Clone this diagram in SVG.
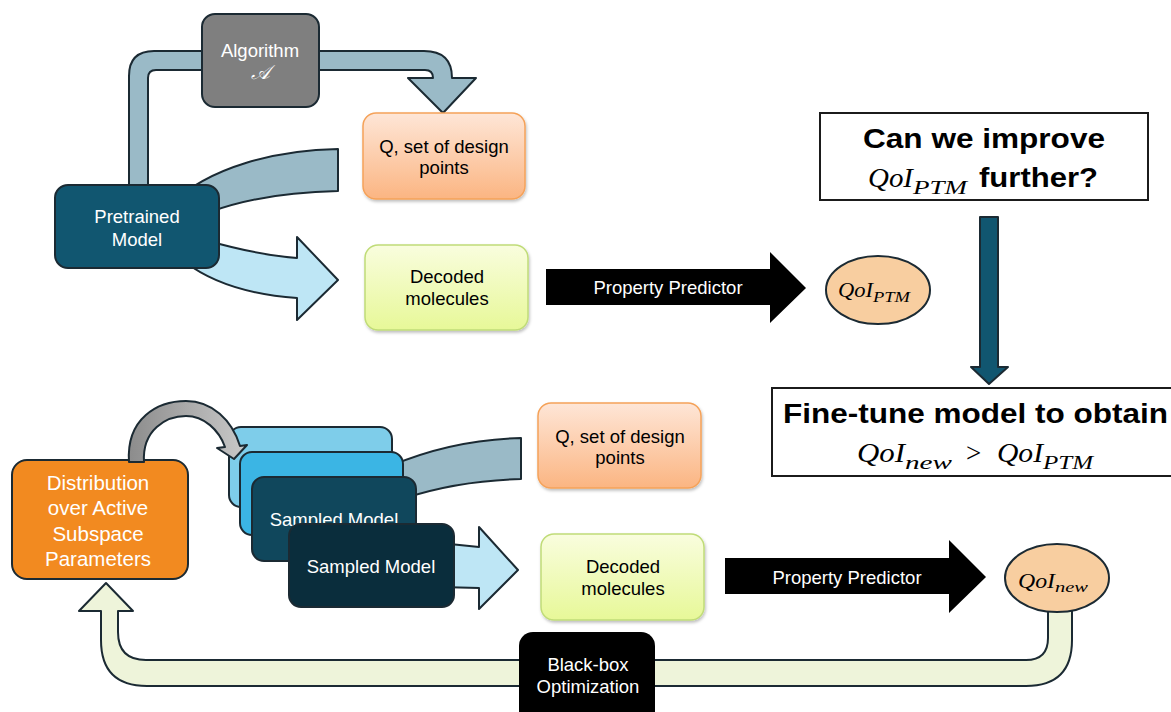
<svg xmlns="http://www.w3.org/2000/svg" width="1171" height="712" viewBox="0 0 1171 712">
<style>
.lbl{font-family:"Liberation Sans",Arial,sans-serif;font-size:18.5px;text-anchor:middle}
.w{fill:#ffffff}
.k{fill:#000000}
.big{font-family:"Liberation Sans",Arial,sans-serif;font-size:28px;font-weight:bold;fill:#000}
.math{font-family:"Liberation Serif","Times New Roman",serif;font-style:italic;fill:#000}
.edge{stroke:#1b2a33;stroke-width:2;stroke-linejoin:round}
</style>
<defs>
<linearGradient id="gOr" x1="0" y1="0" x2="0" y2="1"><stop offset="0" stop-color="#FEE6D7"/><stop offset="1" stop-color="#FBB582"/></linearGradient>
<linearGradient id="gGr" x1="0" y1="0" x2="0" y2="1"><stop offset="0" stop-color="#F9FDDE"/><stop offset="1" stop-color="#E7F898"/></linearGradient>
<linearGradient id="gGray" x1="0" y1="0" x2="1" y2="0"><stop offset="0" stop-color="#8C8C8C"/><stop offset="1" stop-color="#C9C9C9"/></linearGradient>
<filter id="sh" x="-10%" y="-10%" width="130%" height="140%"><feDropShadow dx="1" dy="2" stdDeviation="1.5" flood-color="#000" flood-opacity="0.25"/></filter>
</defs>
<rect width="1171" height="712" fill="#ffffff"/>

<g id="connectors">
  <!-- elbow arrow from Pretrained Model via Algorithm to Q -->
  <path class="edge" fill="#9ABAC7" d="M129,190 L129,76 Q129,51 154,51 L424,51 Q452,51 452,78 L476,78 L443,113 L408,78 L433,78 Q433,70 425,70 L156,70 Q148,70 148,78 L148,190 Z"/>
  <!-- top gray band -->
  <path class="edge" fill="#9ABAC7" d="M170,205 C210,166 278,150 338,149 L338,191 C290,192 248,198 210,212 Z"/>
  <!-- top light blue arrow -->
  <path class="edge" fill="#BEE6F5" d="M205,240 C240,250 270,256 297,258 L297,237 L338,280 L297,320 L297,298 C255,295 215,285 185,262 Z"/>
  <!-- top property predictor -->
  <g>
    <path fill="#000" d="M546,269 L770,269 L770,252 L806,288 L770,323 L770,305 L546,305 Z"/>
    <text class="lbl w" x="668" y="294">Property Predictor</text>
  </g>
  <!-- down arrow -->
  <path class="edge" fill="#115670" d="M980,217 L998,217 L998,367 L1008,367 L989,384 L971,367 L980,367 Z"/>
  <!-- bottom gray band -->
  <path class="edge" fill="#9ABAC7" d="M390,466 C435,447 478,439 521,438 L521,479 C480,480 445,485 405,498 Z"/>
  <!-- bottom light blue arrow -->
  <path class="edge" fill="#BEE6F5" d="M440,543 L479,547 L479,527 L518,570 L479,609 L479,588 L440,587 Z"/>
  <!-- bottom property predictor -->
  <g>
    <path fill="#000" d="M725,558 L949,558 L949,540 L986,577 L949,613 L949,594 L725,594 Z"/>
    <text class="lbl w" x="847" y="584">Property Predictor</text>
  </g>
  <!-- feedback loop -->
  <path class="edge" fill="#EEF4DA" d="M1048,600 L1048,638 Q1048,660 1026,660 L146,660 Q118,660 118,632 L118,611 L133,611 L106,583 L79,611 L101,611 L101,640 Q101,686 147,686 L1026,686 Q1072,686 1072,640 L1072,600 Z"/>
</g>

<g id="algorithm">
  <rect class="edge" x="202" y="14" width="117" height="93" rx="13" fill="#7F7F7F"/>
  <text class="lbl w" x="260" y="57">Algorithm</text>
  <text class="math" x="260" y="79" font-size="20" text-anchor="middle" fill="#fff" style="fill:#fff">𝒜</text>
</g>

<g id="pretrained">
  <rect class="edge" x="55" y="185" width="164" height="83" rx="13" fill="#115670"/>
  <text class="lbl w" x="137" y="223">Pretrained</text>
  <text class="lbl w" x="137" y="246">Model</text>
</g>

<g id="q-top">
  <rect x="363" y="113" width="162" height="86" rx="13" fill="url(#gOr)" stroke="#F5A259" stroke-width="1.5" filter="url(#sh)"/>
  <text class="lbl k" x="444" y="153">Q, set of design</text>
  <text class="lbl k" x="444" y="174">points</text>
</g>

<g id="decoded-top">
  <rect x="365" y="245" width="163" height="85" rx="13" fill="url(#gGr)" stroke="#C0DC78" stroke-width="1.5" filter="url(#sh)"/>
  <text class="lbl k" x="447" y="283">Decoded</text>
  <text class="lbl k" x="447" y="305">molecules</text>
</g>

<g id="qoi-ptm">
  <ellipse class="edge" cx="878" cy="290" rx="52" ry="34" fill="#F8CEA0"/>
  <text class="math" x="838" y="297" font-size="20" textLength="35" lengthAdjust="spacingAndGlyphs">QoI</text>
  <text class="math" x="873" y="302" font-size="14" textLength="37" lengthAdjust="spacingAndGlyphs">PTM</text>
</g>

<g id="question">
  <rect x="820" y="113" width="328" height="87" fill="#fff" stroke="#1b1b1b" stroke-width="2"/>
  <text class="big" x="863" y="148" textLength="242" lengthAdjust="spacingAndGlyphs">Can we improve</text>
  <text class="math" x="868" y="187" font-size="27" textLength="45" lengthAdjust="spacingAndGlyphs">QoI</text>
  <text class="math" x="913" y="194" font-size="19" textLength="54" lengthAdjust="spacingAndGlyphs">PTM</text>
  <text class="big" x="979" y="187" textLength="119" lengthAdjust="spacingAndGlyphs">further?</text>
</g>

<g id="finetune">
  <rect x="772" y="388" width="420" height="88" fill="#fff" stroke="#1b1b1b" stroke-width="2"/>
  <text class="big" x="783" y="423" textLength="385" lengthAdjust="spacingAndGlyphs">Fine-tune model to obtain</text>
  <text class="math" x="857" y="462" font-size="27" textLength="48" lengthAdjust="spacingAndGlyphs">QoI</text>
  <text class="math" x="905" y="469" font-size="19" textLength="47" lengthAdjust="spacingAndGlyphs">new</text>
  <text class="math" x="966" y="462" font-size="27" font-style="normal" style="font-style:normal">&gt;</text>
  <text class="math" x="997" y="462" font-size="27" textLength="46" lengthAdjust="spacingAndGlyphs">QoI</text>
  <text class="math" x="1043" y="469" font-size="19" textLength="50" lengthAdjust="spacingAndGlyphs">PTM</text>
</g>

<g id="distribution">
  <rect class="edge" x="12" y="460" width="176" height="119" rx="15" fill="#F28A20"/>
  <text class="lbl w" x="98" y="490" font-size="20.5" style="font-size:20.5px">Distribution</text>
  <text class="lbl w" x="98" y="515" style="font-size:20.5px">over Active</text>
  <text class="lbl w" x="98" y="541" style="font-size:20.5px">Subspace</text>
  <text class="lbl w" x="98" y="566" style="font-size:20.5px">Parameters</text>
</g>

<g id="sampled-stack">
  <rect class="edge" x="229" y="427" width="163" height="80" rx="12" fill="#7ECDEA"/>
  <rect class="edge" x="240" y="452" width="163" height="83" rx="12" fill="#3BB5E4"/>
  <rect class="edge" x="252" y="477" width="164" height="84" rx="12" fill="#10475C"/>
  <text class="lbl w" x="334" y="526">Sampled Model</text>
</g>

<g id="sampled-model">
  <rect class="edge" x="289" y="524" width="165" height="83" rx="12" fill="#0A2D3C"/>
  <text class="lbl w" x="371" y="573">Sampled Model</text>
</g>

<g id="connectors-front">
  <path class="edge" fill="url(#gGray)" d="M129,462 C126,418 158,401 186,401 C212,401 232,420 240,446 L247,445 L234,459 L217,448 L225,447 C219,430 204,416 186,416 C166,416 142,430 144,462 Z"/>
</g>

<g id="q-bottom">
  <rect x="538" y="403" width="163" height="85" rx="13" fill="url(#gOr)" stroke="#F5A259" stroke-width="1.5" filter="url(#sh)"/>
  <text class="lbl k" x="620" y="443">Q, set of design</text>
  <text class="lbl k" x="620" y="464">points</text>
</g>

<g id="decoded-bottom">
  <rect x="541" y="534" width="163" height="86" rx="13" fill="url(#gGr)" stroke="#C0DC78" stroke-width="1.5" filter="url(#sh)"/>
  <text class="lbl k" x="623" y="573">Decoded</text>
  <text class="lbl k" x="623" y="595">molecules</text>
</g>

<g id="qoi-new">
  <ellipse class="edge" cx="1057" cy="578" rx="52" ry="34" fill="#F8CEA0"/>
  <text class="math" x="1018" y="588" font-size="20" textLength="37" lengthAdjust="spacingAndGlyphs">QoI</text>
  <text class="math" x="1055" y="592" font-size="15" textLength="33" lengthAdjust="spacingAndGlyphs">new</text>
</g>

<g id="blackbox">
  <rect x="519" y="632" width="136" height="100" rx="14" fill="#000"/>
  <text class="lbl w" x="588" y="671">Black-box</text>
  <text class="lbl w" x="588" y="693">Optimization</text>
</g>
</svg>
